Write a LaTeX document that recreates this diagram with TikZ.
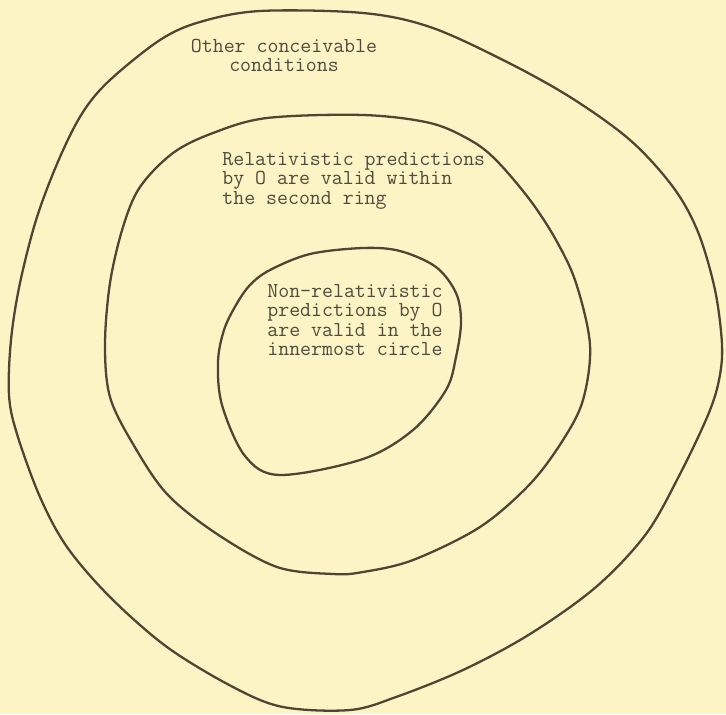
\documentclass[tikz,border=0pt]{standalone}
\usepackage{fontspec}
\definecolor{paper}{HTML}{FDF4C6}
\definecolor{pencil}{HTML}{4E4633}
\definecolor{typeink}{HTML}{4F4A3C}
\newcommand{\typed}{\ttfamily\fontsize{12.1}{11}\selectfont}

\begin{document}
\begin{tikzpicture}[
  x=0.2mm, y=-0.2mm,
  ring/.style={draw=pencil, line width=1.3pt, line join=round},
  lbl/.style={font=\typed, text=typeink, inner sep=0pt, align=left},
]

% ---- paper ----
\fill[paper] (0,0) rectangle (726,714);
\useasboundingbox (0,0) rectangle (726,714);

% ---- rings (outer -> inner) ----
\draw[ring] plot[smooth cycle, tension=0.55] coordinates {
  (260,11) (363,13) (430,27) (503,60) (570,97) (630,140) (673,187)
  (698,232) (715,290) (722,345) (719,380) (708,415) (680,474) (646,534)
  (596,587) (530,634) (463,670) (396,697) (350,710) (283,707) (233,687)
  (167,647) (110,597) (67,547) (40,497) (17,434) (9,395) (11,340)
  (20,283) (37,217) (60,157) (83,112) (110,80) (160,40) (200,22)};
\draw[ring] plot[smooth cycle, tension=0.55] coordinates {
  (363,115) (430,123) (470,140) (496,160) (530,200) (556,240) (576,283)
  (590,345) (583,400) (563,440) (530,484) (480,527) (413,560) (363,572)
  (333,574) (277,567) (217,534) (167,494) (133,444) (110,397) (105,345)
  (110,283) (123,227) (140,187) (173,153) (213,133) (267,118)};
\draw[ring] plot[smooth cycle, tension=0.55] coordinates {
  (363,248) (400,251) (436,267) (456,293) (461,322) (456,357) (446,390)
  (413,430) (363,459) (280,475) (245,456) (222,405) (218,362) (224,330)
  (236,305) (250,285) (270,270) (310,254)};

% ---- labels ----
\node[lbl, align=center, anchor=north] (other) at (284,39)
  {Other conceivable\\conditions};
\node[lbl, anchor=north west] (rel) at (222,152)
  {Relativistic predictions\\by O are valid within\\the second ring};
\node[lbl, anchor=north west] (nonrel) at (267,284)
  {Non-relativistic\\predictions by O\\are valid in the\\innermost circle};

\end{tikzpicture}
\end{document}
